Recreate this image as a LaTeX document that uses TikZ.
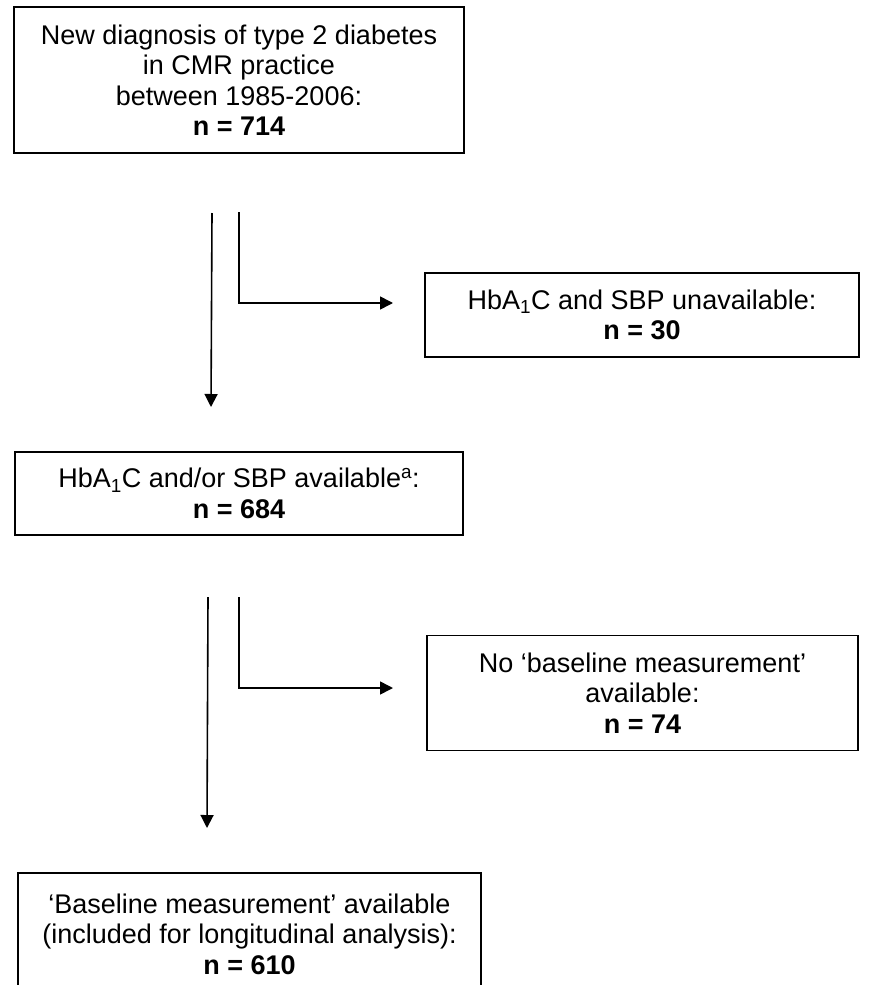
\documentclass[tikz,border=0pt]{standalone}
\usepackage{fontspec}
\setmainfont{Liberation Sans}
\usetikzlibrary{arrows.meta}

\begin{document}
\begin{tikzpicture}[
    x=1pt, y=-1pt,
    every node/.style={font=\fontsize{27}{30.5}\selectfont},
    bx/.style={rectangle, draw, line width=1.6pt, align=center, inner sep=0pt},
    e/.style={line width=1.6pt, -{Triangle[length=13pt, width=13pt]}},
  ]
  \useasboundingbox (0,0) rectangle (884,985);
  \node[bx, minimum width=450pt, minimum height=146pt] (diag) at (239,80)
    {New diagnosis of type 2 diabetes\\in CMR practice\\between 1985-2006:\\\textbf{n = 714}};
  \node[bx, minimum width=434pt, minimum height=84pt] (excl1) at (642,315)
    {HbA\textsubscript{1}C and SBP unavailable:\\\textbf{n = 30}};
  \node[bx, minimum width=448pt, minimum height=83pt] (avail) at (239,493.5)
    {HbA\textsubscript{1}C and/or SBP available\textsuperscript{a}:\\\textbf{n = 684}};
  \node[bx, minimum width=431pt, minimum height=115pt] (excl2) at (642.5,693)
    {No ‘baseline measurement’\\available:\\\textbf{n = 74}};
  \node[bx, minimum width=463pt, minimum height=122pt] (base) at (249.5,934)
    {‘Baseline measurement’ available\\(included for longitudinal analysis):\\\textbf{n = 610}};
  \coordinate (s1) at (212,213);
  \coordinate (t1) at (211,407);
  \coordinate (s2) at (239,212);
  \coordinate (k2) at (239,303);
  \coordinate (t2) at (393,303);
  \coordinate (s3) at (208,597);
  \coordinate (t3) at (207,828);
  \coordinate (s4) at (239,597);
  \coordinate (k4) at (239,688);
  \coordinate (t4) at (393,688);
  \draw[e] (s1) -- (t1);
  \draw[e] (s2) -- (k2) -- (t2);
  \draw[e] (s3) -- (t3);
  \draw[e] (s4) -- (k4) -- (t4);
\end{tikzpicture}
\end{document}
